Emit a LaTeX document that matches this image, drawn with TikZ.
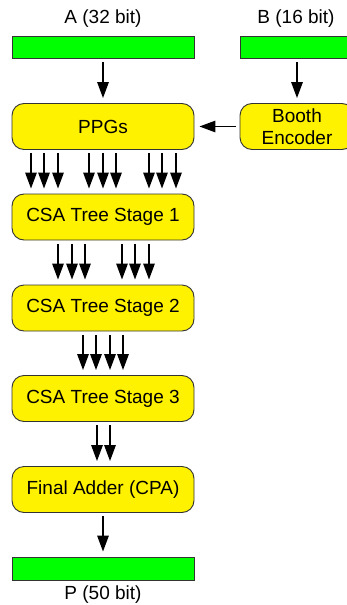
\documentclass[tikz,border=0pt]{standalone}
\usepackage{fontspec}
\setmainfont{Liberation Sans}
\usetikzlibrary{arrows.meta}
\tikzset{every path/.style={black,line width=1.4pt},
  every node/.style={font=\fontsize{19}{21.5}\selectfont, inner sep=0pt},
  stagebox/.style={draw=black!80, line width=0.9pt, fill=yellow, rounded corners=12pt, minimum width=182pt, minimum height=46pt, align=center},
  regbar/.style={draw=black!80, line width=0.9pt, fill=green, minimum width=182pt, minimum height=22pt},
  bus/.style={-{Triangle[width=11.5pt,length=16pt]}, shorten <=3.5pt, shorten >=5pt}}

\begin{document}
\begin{tikzpicture}[x=1pt,y=-1pt]
     \useasboundingbox (0,0) rectangle (347,605);
     % operands
     \node[regbar] (abar) at (103,47) {};
     \node[regbar, minimum width=114pt] (bbar) at (297,47) {};
     \node (alabel) at (103,19) {A (32 bit)};
     \node (blabel) at (296,19) {B (16 bit)};
     % blocks
     \node[stagebox] (ppg) at (103,126.5) {PPGs};
     \node[stagebox, minimum width=114pt] (booth) at (297,126.5) {Booth\\Encoder};
     \node[stagebox] (csa1) at (103,217) {CSA Tree Stage 1};
     \node[stagebox] (csa2) at (103,308) {CSA Tree Stage 2};
     \node[stagebox] (csa3) at (103,398.5) {CSA Tree Stage 3};
     \node[stagebox] (cpa) at (103,489.5) {Final Adder (CPA)};
     % product
     \node[regbar, minimum height=23pt] (pbar) at (103,568.5) {};
     \node (plabel) at (103,595) {P (50 bit)};
     % connections
     \draw[bus] (abar) -- (ppg);
     \draw[bus] (bbar.south -| booth.center) -- (booth);
     \draw[bus, shorten <=4pt, shorten >=5pt] (booth) -- (ppg);
     \foreach \x in {31,44,58,89,103,116,149,162,176}
       \draw[bus] (ppg.south -| \x,0) -- (csa1.north -| \x,0);
     \foreach \x in {58,72,85,122,135,149}
       \draw[bus] (csa1.south -| \x,0) -- (csa2.north -| \x,0);
     \foreach \x in {83,96,110,123}
       \draw[bus] (csa2.south -| \x,0) -- (csa3.north -| \x,0);
     \foreach \x in {97,110}
       \draw[bus] (csa3.south -| \x,0) -- (cpa.north -| \x,0);
     \draw[bus] (cpa) -- (pbar);
\end{tikzpicture}
\end{document}
